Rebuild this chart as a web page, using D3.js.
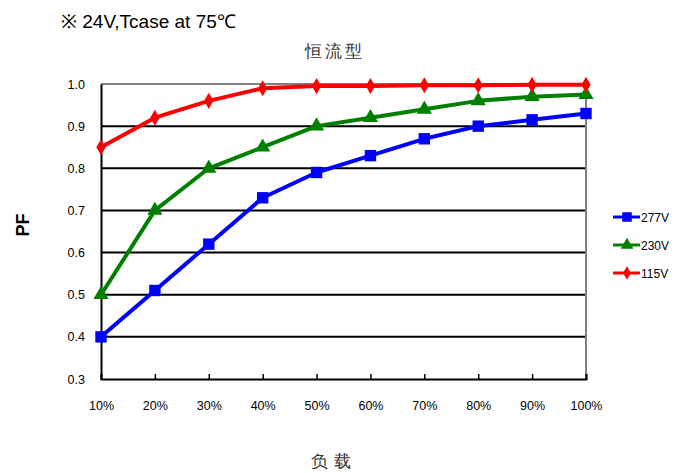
<!DOCTYPE html>
<html><head><meta charset="utf-8">
<script src="https://cdn.jsdelivr.net/npm/d3@7"></script>
<style>
body{margin:0;background:#fff;}
text{font-family:"Liberation Sans","Arial",sans-serif;}
</style></head><body>
<svg id="c" width="684" height="473"></svg>
<script>
const categories=["10%","20%","30%","40%","50%","60%","70%","80%","90%","100%"];
const s277=[0.40,0.51,0.62,0.73,0.79,0.83,0.87,0.90,0.915,0.93];
const s230=[0.50,0.70,0.80,0.85,0.90,0.92,0.94,0.96,0.97,0.975];
const s115=[0.85,0.92,0.96,0.99,0.995,0.995,0.997,0.997,0.998,0.998];
const yTicks=[0.3,0.4,0.5,0.6,0.7,0.8,0.9,1.0];
const seriesNames=["277V","230V","115V"];
const seriesColors=["#0000ff","#008000","#ff0000"];

const svg=d3.select("#c");
const L=101,R=586,T=84,B=379;
const x=d3.scalePoint().domain(categories).range([L,R]);
const y=d3.scaleLinear().domain([0.3,1.0]).range([B,T]);

svg.append("g").selectAll("line").data(yTicks.filter(v=>v>0.3)).join("line")
 .attr("x1",L).attr("x2",R).attr("y1",d=>y(d)).attr("y2",d=>y(d))
 .attr("stroke",d=>d===1.0?"#808080":"#000").attr("stroke-width",2);
svg.append("line").attr("x1",R).attr("x2",R).attr("y1",T).attr("y2",B).attr("stroke","#808080").attr("stroke-width",2);
const ya=svg.append("g").attr("transform",`translate(${L},0)`)
 .call(d3.axisLeft(y).tickValues(yTicks).tickFormat(d3.format(".1f")).tickSize(0).tickPadding(16));
ya.select(".domain").attr("stroke","#000").attr("stroke-width",2);
ya.selectAll("text").attr("font-size",12.5).attr("fill","#000");
const xa=svg.append("g").attr("transform",`translate(0,${B})`)
 .call(d3.axisBottom(x).tickSize(-5).tickPadding(22));
xa.select(".domain").attr("stroke","#000").attr("stroke-width",2);
xa.selectAll(".tick line").attr("stroke","#000").attr("stroke-width",1.5);
xa.selectAll("text").attr("font-size",12.5).attr("fill","#000");

const data=[s277,s230,s115];
const symbols=[d3.symbolSquare,d3.symbolTriangle,d3.symbolDiamond];
const sizes=[130,100,75];
const line=d3.line().x((d,i)=>x(categories[i])).y(d=>y(d));
data.forEach((vals,k)=>{
  svg.append("path").datum(vals).attr("d",line).attr("fill","none")
   .attr("stroke",seriesColors[k]).attr("stroke-width",4).attr("stroke-linejoin","round");
  svg.append("g").selectAll("path").data(vals).join("path")
   .attr("d",d3.symbol().type(symbols[k]).size(sizes[k]))
   .attr("transform",(d,i)=>`translate(${x(categories[i])},${y(d)})`)
   .attr("fill",seriesColors[k]);
});

const legY=[217,245,273];
seriesNames.forEach((n,k)=>{
  const g=svg.append("g");
  g.append("line").attr("x1",613).attr("x2",640).attr("y1",legY[k]).attr("y2",legY[k])
   .attr("stroke",seriesColors[k]).attr("stroke-width",3);
  g.append("path").attr("d",d3.symbol().type(symbols[k]).size(sizes[k]*0.7)())
   .attr("transform",`translate(627,${legY[k]})`).attr("fill",seriesColors[k]);
  g.append("text").attr("x",641).attr("y",legY[k]+5).attr("font-size",12).attr("fill","#000").text(n);
});

svg.append("text").attr("x",61).attr("y",28).attr("font-size",19).attr("fill","#000")
 .text("※ 24V,Tcase at 75℃");
svg.append("text").attr("x",335).attr("y",57).attr("text-anchor","middle").attr("font-size",17)
 .attr("font-family","Noto Sans CJK SC").attr("font-weight",300).attr("fill","#333").attr("letter-spacing",3).text("恒流型");
svg.append("text").attr("transform","translate(29,225) rotate(-90)").attr("text-anchor","middle")
 .attr("font-size",18).attr("font-weight","bold").attr("fill","#000").text("PF");
svg.append("text").attr("x",334).attr("y",467).attr("text-anchor","middle").attr("font-size",17)
 .attr("font-family","Noto Sans CJK SC").attr("font-weight",300).attr("fill","#333").attr("letter-spacing",6).text("负载");
</script></body></html>
